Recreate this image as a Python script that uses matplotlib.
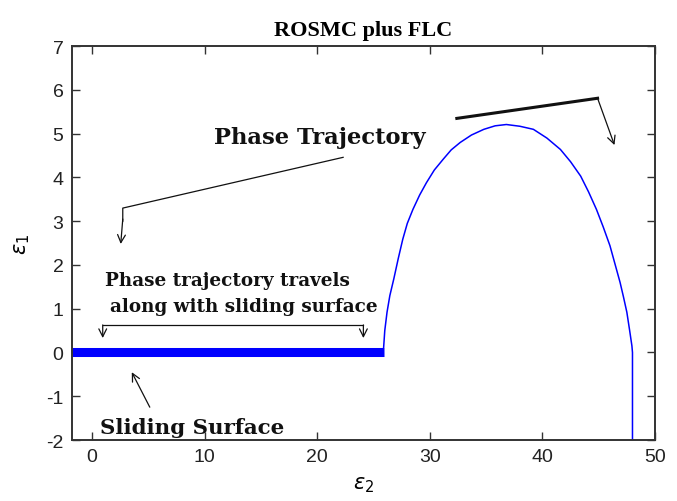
import numpy as np
import matplotlib.pyplot as plt

plt.rcParams['axes.unicode_minus'] = False

# sliding phase: trajectory stays on the surface (chattering band around zero)
slide_e2 = [-1.8, 25.9]
slide_e1 = [0.02, 0.02]

# reaching phase after leaving the surface
traj_e2 = [25.9, 26.0, 26.2, 26.45, 26.8, 27.2, 27.6, 28.0, 28.5, 29.1,
           29.7, 30.4, 31.2, 31.9, 32.7, 33.7, 34.8, 35.8, 36.8, 38.0,
           39.2, 40.4, 41.6, 42.5, 43.4, 44.1, 44.8, 45.4, 46.0, 46.45,
           46.9, 47.2, 47.5, 47.75, 47.95, 48.0, 48.0]
traj_e1 = [0.12, 0.5, 0.92, 1.3, 1.68, 2.15, 2.59, 2.95, 3.27, 3.6,
           3.88, 4.17, 4.42, 4.63, 4.80, 4.97, 5.10, 5.18, 5.21, 5.17,
           5.10, 4.90, 4.64, 4.36, 4.03, 3.67, 3.27, 2.87, 2.44, 2.02,
           1.60, 1.27, 0.92, 0.5, 0.15, 0.0, -2.5]

xticks = [0, 10, 20, 30, 40, 50]
yticks = [-2, -1, 0, 1, 2, 3, 4, 5, 6, 7]

fig = plt.figure(figsize=(6.77, 5.02), dpi=100)
ax = fig.add_axes([0.106, 0.1215, 0.8615, 0.7845])

ax.plot(slide_e2, slide_e1, color='#0000ff', lw=6.5, solid_capstyle='butt')
ax.plot(traj_e2, traj_e1, color='#0000ff', lw=1.1)

ax.set_xlim(-1.8, 50)
ax.set_ylim(-2, 7)
ax.set_xticks(xticks)
ax.set_yticks(yticks)
ax.tick_params(direction='in', length=6, width=1, top=True, right=True,
               labelsize=14, colors='#333333', pad=6)
for lab in ax.get_xticklabels() + ax.get_yticklabels():
    lab.set_family('Liberation Sans')
    lab.set_color('#222222')
for s in ax.spines.values():
    s.set_linewidth(1.4)
    s.set_color('#333333')

ax.set_title('ROSMC plus FLC', fontsize=16, fontweight='bold',
             family='Liberation Serif', pad=8)
ax.set_xlabel(r'$\varepsilon_2$', fontsize=15, labelpad=6)
ax.set_ylabel(r'$\varepsilon_1$', fontsize=15, labelpad=10)

serif = dict(family='DejaVu Serif', fontweight='bold', color='#111111')
arr = dict(arrowstyle='->', color='#111111', lw=0.9, mutation_scale=14,
           shrinkA=0, shrinkB=0)

# "Phase Trajectory" callouts
ax.text(20.2, 4.92, 'Phase Trajectory', ha='center', va='center',
        fontsize=16.3, **serif)
ax.plot([22.3, 2.73, 2.73], [4.46, 3.30, 3.0], color='#111111', lw=0.9)
ax.annotate('', xy=(2.55, 2.48), xytext=(2.73, 3.05), arrowprops=arr)
ax.plot([32.4, 44.9], [5.35, 5.81], color='#111111', lw=2.2)
ax.annotate('', xy=(46.4, 4.74), xytext=(44.9, 5.81), arrowprops=arr)

# bracket over the sliding segment
ax.text(1.13, 1.65, 'Phase trajectory travels', ha='left', va='center',
        fontsize=13.2, **serif)
ax.text(1.57, 1.06, 'along with sliding surface', ha='left', va='center',
        fontsize=13.2, **serif)
ax.plot([0.95, 24.1], [0.63, 0.63], color='#111111', lw=0.9)
ax.annotate('', xy=(0.95, 0.33), xytext=(0.95, 0.63), arrowprops=arr)
ax.annotate('', xy=(24.1, 0.33), xytext=(24.1, 0.63), arrowprops=arr)

# sliding surface label
ax.text(8.9, -1.70, 'Sliding Surface', ha='center', va='center',
        fontsize=15.4, **serif)
ax.annotate('', xy=(3.53, -0.45), xytext=(5.13, -1.25), arrowprops=arr)

fig.savefig('out.png', dpi=100)
